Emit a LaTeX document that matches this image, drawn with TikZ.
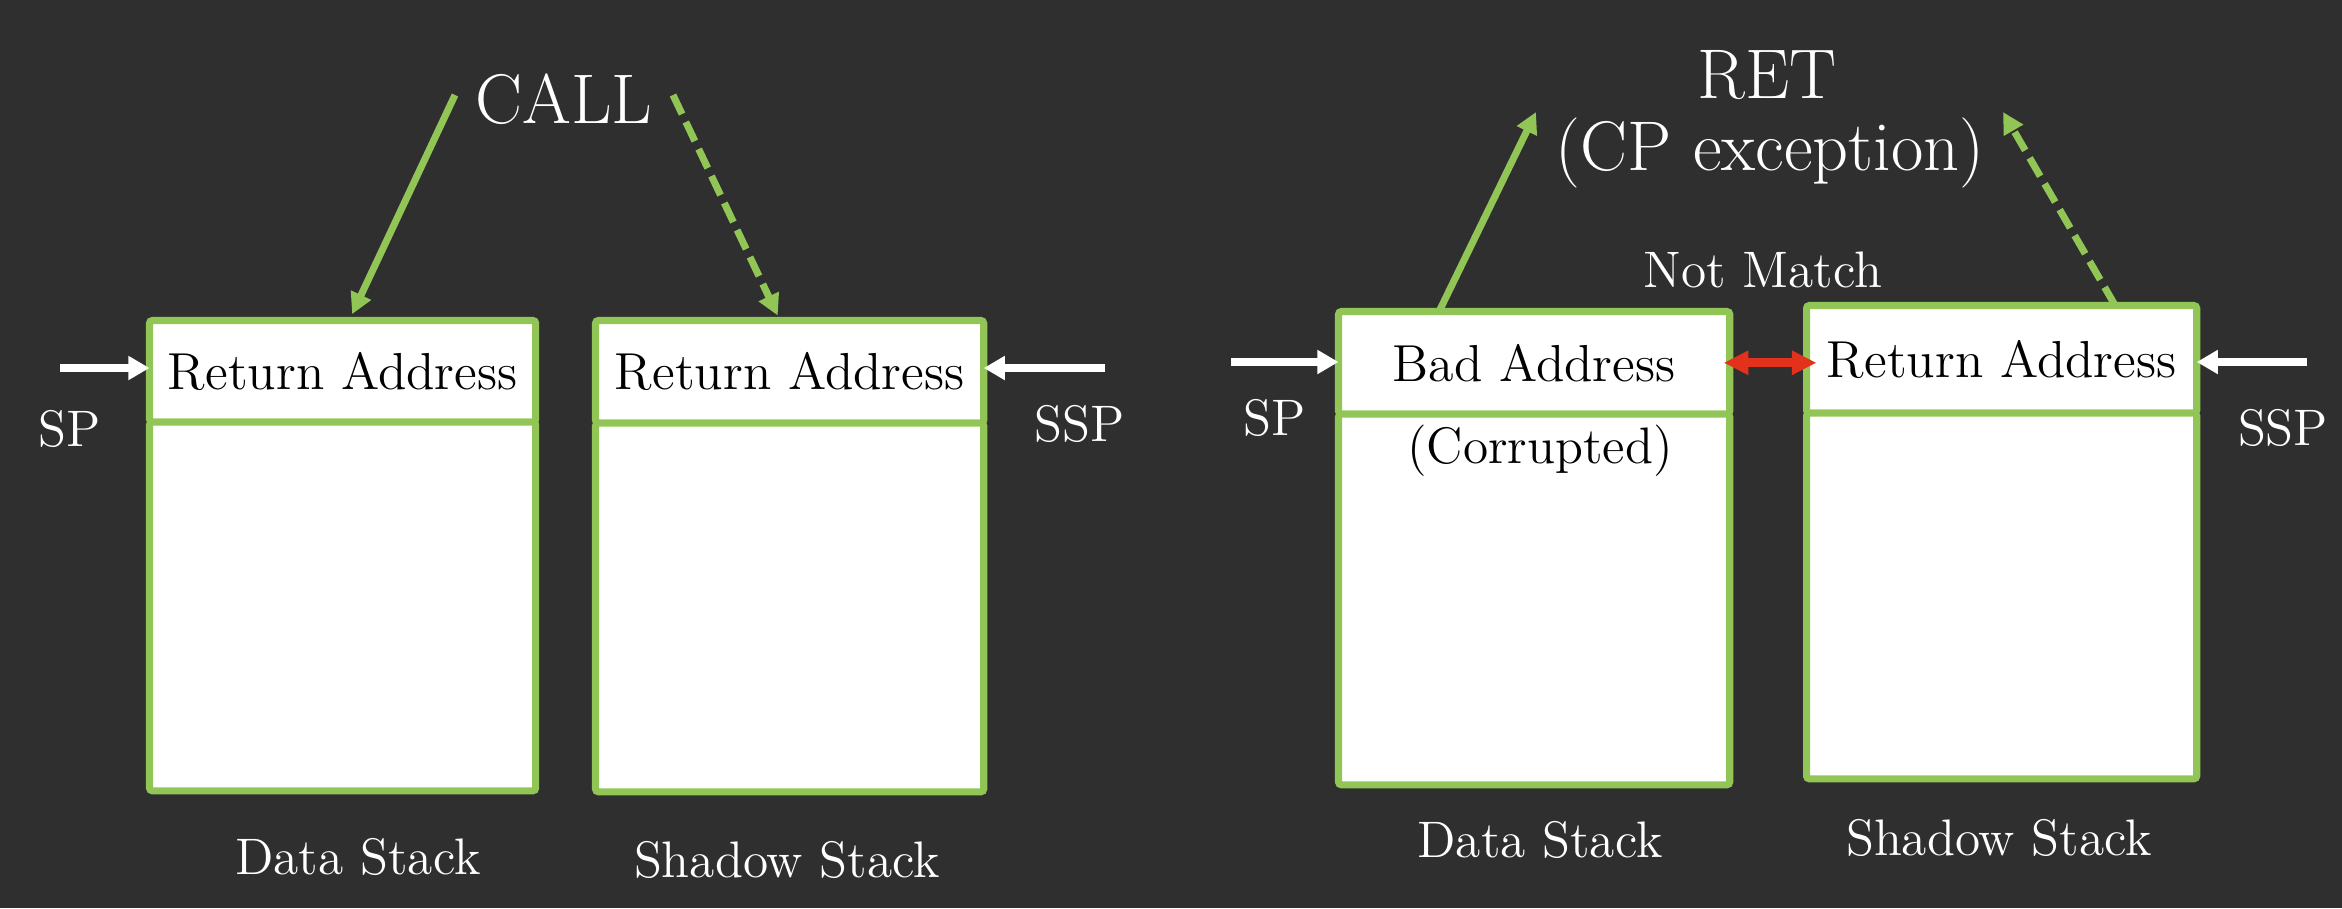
\documentclass[tikz,border=0pt]{standalone}
\usepackage{tikz}
\usetikzlibrary{
	arrows.meta,
	positioning
}
\definecolor{bgdark}{HTML}{2F2F2F}
\definecolor{cetgreen}{HTML}{91C656}
\definecolor{badred}{HTML}{E3321C}
\tikzset{
	cell/.style={draw=cetgreen, fill=white, line width=2pt, inner sep=0pt, outer sep=0pt,
		rounded corners=0.8pt, font=\fontsize{14.8}{17}\selectfont},
	txt/.style={text=white, inner sep=0pt, font=\fontsize{14.6}{17}\selectfont},
	bigtxt/.style={text=white, inner sep=0pt, font=\fontsize{20}{24}\selectfont},
	flow/.style={draw=cetgreen, line width=2pt, -{Triangle[length=6pt,width=6pt]}},
	shadowflow/.style={flow, dash pattern=on 6pt off 2.5pt},
	ptr/.style={draw=white, line width=2pt, -{Triangle[length=6pt,width=6.5pt]}},
	mismatch/.style={draw=badred, line width=2.5pt,
		{Triangle[length=7pt,width=6.5pt]}-{Triangle[length=7pt,width=6.5pt]}}
}

\begin{document}
\begin{tikzpicture}[x=0.01cm, y=-0.01cm]
		\fill[bgdark] (0,0) rectangle (2342,908);
		\useasboundingbox (0,0) rectangle (2342,908);

		% CALL
		\node[cell, anchor=north west, minimum width=3.86cm, minimum height=1.015cm] (dsHeadA) at (149.5,320.5) {Return Address};
		\node[cell, below=0pt of dsHeadA, minimum width=3.86cm, minimum height=3.685cm] (dsBodyA) {};
		\node[cell, anchor=north west, minimum width=3.88cm, minimum height=1.025cm] (ssHeadA) at (595.5,320.5) {Return Address};
		\node[cell, below=0pt of ssHeadA, minimum width=3.88cm, minimum height=3.685cm] (ssBodyA) {};
		\node[bigtxt] (call) at (564,99) {CALL};
		\coordinate (callL) at (455,95);
		\coordinate (callR) at (673,95);
		\draw[flow, shorten >=0.07cm] (callL) -- ([xshift=0.065cm]dsHeadA.north);
		\draw[shadowflow, shorten >=0.055cm] (callR) -- ([xshift=-0.095cm]ssHeadA.north);
		\coordinate (spA) at (60,368);
		\coordinate (sspA) at (1105,368);
		\draw[ptr] (spA) -- (spA -| dsHeadA.west);
		\draw[ptr] (sspA) -- (sspA -| ssHeadA.east);
		\node[txt] (spLabelA) at (70,429) {SP};
		\node[txt] (sspLabelA) at (1080,424) {SSP};
		\node[txt] (dsNameA) at (358,857) {Data Stack};
		\node[txt] (ssNameA) at (787,860) {Shadow Stack};

		% RET
		\node[cell, anchor=north west, minimum width=3.91cm, minimum height=1.025cm] (dsHeadB) at (1338.5,311.5) {Bad Address};
		\node[cell, below=0pt of dsHeadB, minimum width=3.91cm, minimum height=3.705cm] (dsBodyB) {};
		\node[cell, anchor=north west, minimum width=3.90cm, minimum height=1.075cm] (ssHeadB) at (1806.5,305.5) {Return Address};
		\node[cell, below=0pt of ssHeadB, minimum width=3.90cm, minimum height=3.655cm] (ssBodyB) {};
		\node[inner sep=0pt, font=\fontsize{14.6}{17}\selectfont] (corrupt) at (1540,451) {(Corrupted)};
		\node[bigtxt] (ret) at (1767,75) {RET};
		\node[bigtxt] (cpexc) at (1770,153) {(CP exception)};
		\coordinate (retL) at (1536,112);
		\coordinate (retR) at (2003,112);
		\draw[flow] ([xshift=-0.95cm]dsHeadB.north) -- (retL);
		\draw[shadowflow] ([xshift=1.135cm]ssHeadB.north) -- (retR);
		\node[txt] (notMatch) at (1763,270) {Not Match};
		\draw[mismatch] ([xshift=-0.06cm]dsHeadB.east) -- ([xshift=0.1cm]dsHeadB.east -| ssHeadB.west);
		\coordinate (spB) at (1231,362);
		\coordinate (sspB) at (2307,362);
		\draw[ptr] (spB) -- (spB -| dsHeadB.west);
		\draw[ptr] (sspB) -- (sspB -| ssHeadB.east);
		\node[txt] (spLabelB) at (1275,418) {SP};
		\node[txt] (sspLabelB) at (2283,428) {SSP};
		\node[txt] (dsNameB) at (1540,840) {Data Stack};
		\node[txt] (ssNameB) at (1999,838) {Shadow Stack};
\end{tikzpicture}
\end{document}
